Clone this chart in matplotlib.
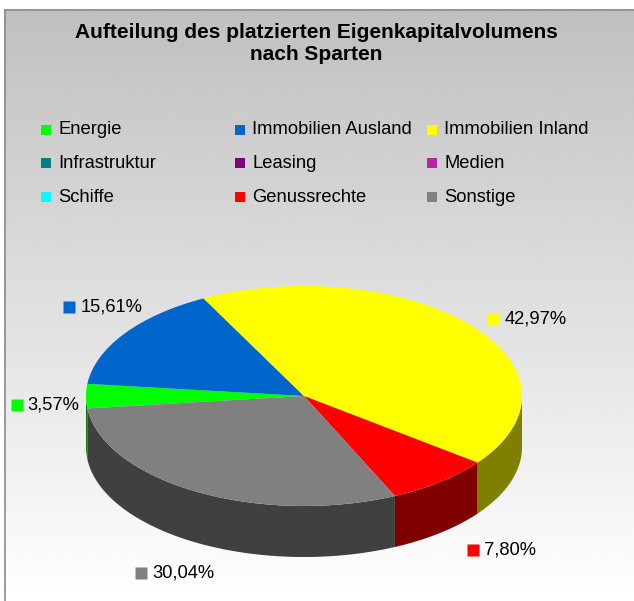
import numpy as np
import matplotlib
matplotlib.use("Agg")
import matplotlib.pyplot as plt
from matplotlib.patches import Rectangle, Polygon
from matplotlib.transforms import offset_copy

# ------------------------------------------------------------
# Data
# ------------------------------------------------------------
sparten = ["Energie", "Immobilien Ausland", "Immobilien Inland",
           "Infrastruktur", "Leasing", "Medien",
           "Schiffe", "Genussrechte", "Sonstige"]
anteile = [3.57, 15.61, 42.97, 0.0, 0.0, 0.0, 0.0, 7.80, 30.04]
farben = ["#00FF00", "#0066CC", "#FFFF00",
          "#008080", "#800080", "#B425A8",
          "#00FFFF", "#FF0000", "#808080"]

title = "Aufteilung des platzierten Eigenkapitalvolumens\nnach Sparten"

# ------------------------------------------------------------
# Layout (pixels, figure 634 x 601)
# ------------------------------------------------------------
W, H = 634, 601
cx, cy = 304, 396        # pie centre
rx, ry = 218, 110        # ellipse half axes
depth = 51 / ry          # side height in y-data units
start = 186.5

plt.rcParams["font.family"] = ["Liberation Sans", "DejaVu Sans"]

fig = plt.figure(figsize=(W / 100, H / 100), dpi=100)

# ------------------------------------------------------------
# Background, frame, title, legend (pixel coordinates)
# ------------------------------------------------------------
bg = fig.add_axes([0, 0, 1, 1])
bg.set_xlim(0, W)
bg.set_ylim(H, 0)
bg.axis("off")
grad = np.linspace(192, 255, 256).reshape(-1, 1) / 255.0
bg.imshow(grad, cmap="gray", vmin=0, vmax=1, extent=(4, W, H, 9),
          aspect="auto", interpolation="bilinear", zorder=0)
bg.plot([4.5, W], [9.5, 9.5], color="#8C8C8C", lw=1.2, zorder=1)
bg.plot([4.5, 4.5], [9.5, H], color="#8C8C8C", lw=1.2, zorder=1)

bg.text(316, 43, title, ha="center", va="center", fontsize=15,
        fontweight="bold", linespacing=1.2, color="#000000")

col_x = [41, 235, 427]
row_y = [130, 163, 197]
for i, (name, c) in enumerate(zip(sparten, farben)):
    x0 = col_x[i % 3]
    y0 = row_y[i // 3]
    bg.add_patch(Rectangle((x0, y0 - 5), 10, 10, facecolor=c,
                           edgecolor="none", zorder=2))
    bg.text(x0 + 17, y0, name, ha="left", va="center", fontsize=13.2,
            color="#000000", zorder=2)

# ------------------------------------------------------------
# Pie (top face + side walls)
# ------------------------------------------------------------
ax = fig.add_axes([0, 0, 1, 1])
wedges, _ = ax.pie(anteile, colors=farben, startangle=start,
                   counterclock=False, radius=1,
                   wedgeprops={"linewidth": 0})
ax.set_aspect("auto")
ax.set_xlim(-cx / rx, (W - cx) / rx)
ax.set_ylim(-(H - cy) / ry, cy / ry)
ax.axis("off")
for w in wedges:
    w.set_zorder(3)


def dunkel(c):
    r, g, b = matplotlib.colors.to_rgb(c)
    return (r * 0.5, g * 0.5, b * 0.5)


for w, c in zip(wedges, farben):
    t1, t2 = w.theta1, w.theta2
    if t2 - t1 <= 0:
        continue
    for k in (-1, 0, 1):
        a = max(t1, 180 + 360 * k)
        b = min(t2, 360 + 360 * k)
        if b <= a:
            continue
        t = np.radians(np.linspace(a, b, 200))
        top = np.column_stack([np.cos(t), np.sin(t)])
        bot = top[::-1] - [0, depth]
        ax.add_patch(Polygon(np.vstack([top, bot]), closed=True,
                             facecolor=dunkel(c), edgecolor="none",
                             zorder=2))

# ------------------------------------------------------------
# Data labels
# ------------------------------------------------------------
nudge = {0: (-4, 9), 1: (1, -11), 2: (-8, 12), 7: (10, 7), 8: (-18, 13)}
for i, (w, v, c) in enumerate(zip(wedges, anteile, farben)):
    if v <= 0:
        continue
    mid = np.radians((w.theta1 + w.theta2) / 2)
    lx = 1.25 * np.cos(mid)
    ly = 1.25 * np.sin(mid)
    if np.sin(mid) < 0:
        ly -= depth * (-np.sin(mid))
    dx, dy = nudge.get(i, (0, 0))
    tr = offset_copy(ax.transData, fig=fig, x=dx, y=-dy, units="dots")
    ax.text(lx, ly, f"{v:.2f}".replace(".", ",") + "%", transform=tr,
            ha="left", va="center", fontsize=13.2, color="#000000", zorder=5)
    trm = offset_copy(ax.transData, fig=fig, x=dx - 11, y=-dy, units="dots")
    ax.plot([lx], [ly], marker="s", ms=8, color=c, mec="none",
            transform=trm, zorder=5)

fig.savefig("out.png", dpi=100)
